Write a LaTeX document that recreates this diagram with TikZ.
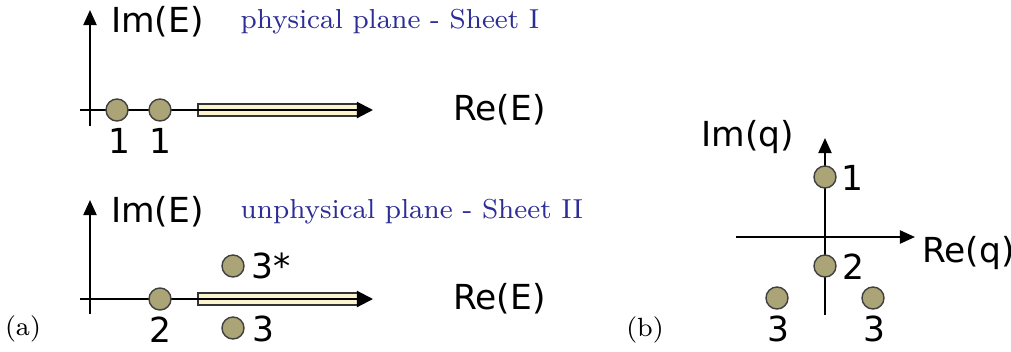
\documentclass[tikz,border=0pt]{standalone}
\usepackage{fontspec}
\newfontfamily\axisfont{DejaVu Sans}
\usetikzlibrary{arrows.meta}
\definecolor{polefill}{RGB}{170,164,118}
\definecolor{cutfill}{RGB}{252,244,204}
\definecolor{sheetblue}{RGB}{45,45,150}

\begin{document}
\begin{tikzpicture}[x=0.01cm, y=-0.01cm,
  axis/.style={line width=0.6pt, -{Triangle[length=0.15cm, width=0.13cm]}},
  realaxis/.style={line width=0.6pt, -{Triangle[length=0.16cm, width=0.16cm]}},
  pole/.style={circle, draw=black!75, line width=0.4pt, fill=polefill,
    minimum size=0.22cm, inner sep=0pt},
  alabel/.style={font=\axisfont\fontsize{9.8}{11}\selectfont, inner sep=1pt},
  sheet/.style={font=\fontsize{7.8}{9}\selectfont, text=sheetblue, anchor=west, inner sep=0pt},
  cut/.style={draw=black!80, line width=0.45pt, fill=cutfill},
  panel/.style={font=\fontsize{7.5}{9}\selectfont, inner sep=0pt}
]
\useasboundingbox (0,0) rectangle (1011,351);
% (a) top: physical sheet, two bound states on the negative axis
\coordinate (t0) at (80,110);
\coordinate (tx) at (373,110);
\coordinate (ty0) at (90,126);
\coordinate (ty) at (90,10);
\draw[cut] (198,104) rectangle (359,116);
\draw[realaxis] (t0) -- (tx);
\draw[axis] (ty0) -- (ty);
\node[pole] (ta) at (117,110) {};
\node[pole] (tb) at (160,110) {};
\node[alabel] (tla) at (119,141) {1};
\node[alabel] (tlb) at (160,141) {1};
\node[alabel, anchor=west] (tim) at (107,22) {Im(E)};
\node[alabel, anchor=west] (tre) at (449,110) {Re(E)};
\node[sheet] (tsheet) at (240,22) {physical plane - Sheet I};
% (a) bottom: unphysical sheet, virtual state and resonance pair
\coordinate (b0) at (80,299);
\coordinate (bx) at (373,299);
\coordinate (by0) at (90,314);
\coordinate (by) at (90,200);
\draw[cut] (198,293) rectangle (359,305);
\draw[realaxis] (b0) -- (bx);
\draw[axis] (by0) -- (by);
\node[pole] (bv) at (160,299) {};
\node[pole] (bru) at (233,266) {};
\node[pole] (brd) at (233,328) {};
\node[alabel] (blv) at (160,330) {2};
\node[alabel, anchor=west] (blru) at (247,266) {3*};
\node[alabel, anchor=west] (blrd) at (248,329) {3};
\node[alabel, anchor=west] (bim) at (107,212) {Im(E)};
\node[alabel, anchor=west] (bre) at (449,299) {Re(E)};
\node[sheet] (bsheet) at (240,212) {unphysical plane - Sheet II};
\node[panel] (pa) at (23,329) {(a)};
% (b) complex momentum plane
\coordinate (q0) at (736,237);
\coordinate (qx) at (915,237);
\coordinate (qy0) at (825,315);
\coordinate (qy) at (825,138);
\draw[axis] (q0) -- (qx);
\draw[axis] (qy0) -- (qy);
\node[pole] (qb) at (825,177) {};
\node[pole] (qv) at (825,266) {};
\node[pole] (qrl) at (777,298) {};
\node[pole] (qrr) at (873,298) {};
\node[alabel, anchor=west] (qlb) at (837,178) {1};
\node[alabel, anchor=west] (qlv) at (838,267) {2};
\node[alabel] (qlrl) at (778,329) {3};
\node[alabel] (qlrr) at (874,329) {3};
\node[alabel] (qim) at (748,137) {Im(q)};
\node[alabel, anchor=west] (qre) at (918,253) {Re(q)};
\node[panel] (pb) at (645,330) {(b)};
\end{tikzpicture}
\end{document}
